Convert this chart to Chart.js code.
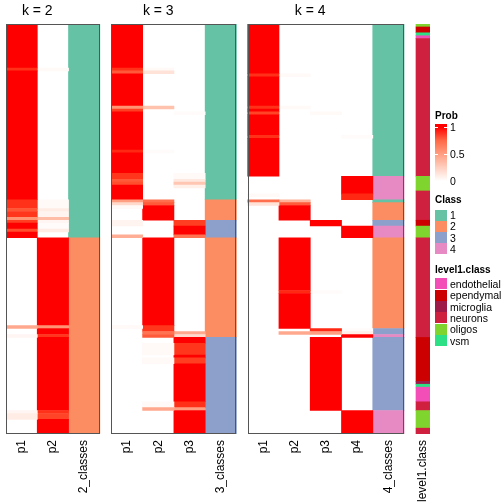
<!DOCTYPE html>
<html>
<head>
<meta charset="utf-8">
<script src="https://cdn.jsdelivr.net/npm/chart.js@4/dist/chart.umd.min.js"></script>
<style>
  body { margin: 0; background: #fff; }
  #wrap { position: relative; width: 504px; height: 504px; font-family: "Liberation Sans", Arial, sans-serif; }
  #legend { position: absolute; left: 0; top: 0; width: 504px; height: 504px; pointer-events: none; color: #000; }
  .lg-title { position: absolute; left: 435px; font-size: 10px; font-weight: bold; line-height: 12px; }
  .lg-sw { position: absolute; left: 435px; width: 12px; height: 11px; }
  .lg-txt { position: absolute; left: 450px; font-size: 10.5px; line-height: 12px; white-space: nowrap; }
  .lg-tick { position: absolute; height: 1px; width: 3px; background: #fff; }
</style>
</head>
<body>
<div id="wrap">
  <canvas id="myChart" width="504" height="504"></canvas>
  <div id="legend"></div>
</div>
<script>
// membership probabilities, k = 2 / 3 / 4, plus level1.class annotation
// every column is a list of runs: [first row, last row (excl.), value]

var nRows = 140;

var k2_p1 = [[0,15,1],[15,16,0.93],[16,60,1],[60,63,0.93],[63,64,0.82],[64,66,0.92],[66,67,0.55],[67,68,0.9],[68,70,1],[70,71,0.85],[71,73,1],[103,104,0.45],[106,107,0.05],[132,133,0.05],[133,135,0.1]];
var k2_p2 = [[15,16,0.03],[60,63,0.03],[63,64,0.1],[64,66,0.06],[66,67,0.35],[67,68,0.05],[68,70,0.02],[70,71,0.1],[73,103,1],[103,104,0.55],[104,106,1],[106,107,0.92],[107,132,1],[132,133,0.93],[133,135,0.88],[135,140,1]];
var k2_cls = [[0,73,1],[73,140,2]];

var k3_p1 = [[0,15,1],[15,16,0.93],[16,17,0.8],[17,28,1],[28,29,0.55],[29,30,0.9],[30,43,1],[43,44,0.95],[44,51,1],[51,53,0.92],[53,54,0.8],[54,55,0.85],[55,60,1],[60,61,0.5],[61,62,0.2],[62,63,0.03],[67,69,0.06],[72,73,0.42],[103,104,0.03]];
var k3_p2 = [[15,16,0.03],[16,17,0.15],[28,29,0.32],[43,44,0.02],[60,61,0.72],[61,62,0.8],[62,67,1],[73,103,1],[103,105,0.92],[105,106,0.7],[106,107,0.8],[109,113,0.03],[114,116,0.03],[129,131,0.03],[131,132,0.45]];
var k3_p3 = [[30,31,0.02],[51,53,0.03],[53,54,0.12],[54,55,0.3],[55,56,0.08],[67,69,0.9],[69,72,1],[72,73,0.7],[105,106,0.45],[106,107,0.2],[107,109,1],[109,113,0.92],[113,114,1],[114,116,0.9],[116,129,1],[129,131,0.93],[131,132,0.5],[132,140,1]];
var k3_cls = [[0,60,1],[60,67,2],[67,73,3],[73,107,2],[107,140,3]];

var k4_p1 = [[0,17,1],[17,18,0.93],[18,28,1],[28,29,0.93],[29,30,1],[30,31,0.88],[31,38,1],[38,39,0.93],[39,52,1],[58,59,0.03],[60,61,0.72],[61,62,0.15]];
var k4_p2 = [[17,18,0.03],[28,29,0.03],[60,61,0.4],[61,62,0.8],[62,67,1],[73,91,1],[91,92,0.95],[92,104,1],[105,106,0.45]];
var k4_p3 = [[30,31,0.03],[67,69,1],[91,92,0.02],[104,105,0.95],[105,106,0.5],[107,132,1]];
var k4_p4 = [[38,39,0.02],[52,58,1],[58,60,0.95],[69,73,1],[104,105,0.02],[105,106,0.08],[106,107,1],[132,140,1]];
var k4_cls = [[0,52,1],[52,60,4],[60,61,1],[61,67,2],[67,69,3],[69,73,4],[73,104,2],[104,106,3],[106,107,4],[107,132,3],[132,140,4]];

var level1 = [[0,1,"oligos"],[1,3,"ependymal"],[3,4,"vsm"],[4,5,"endothelial"],[5,52,"neurons"],[52,57,"oligos"],[57,67,"neurons"],[67,69,"ependymal"],[69,73,"oligos"],[73,107,"neurons"],[107,122,"ependymal"],[122,123,"microglia"],[123,124,"vsm"],[124,129,"endothelial"],[129,132,"neurons"],[132,138,"oligos"],[138,140,"neurons"]];

var classNames = ["1", "2", "3", "4"];
var classColors = ["#66C2A5", "#FC8D62", "#8DA0CB", "#E78AC3"];
var level1Names = ["endothelial", "ependymal", "microglia", "neurons", "oligos", "vsm"];
var level1Colors = ["#F34DB8", "#CC0000", "#9E1A48", "#D0203F", "#80D42E", "#2EE085"];
var probTicks = [1, 0.5, 0];

// ---- colour ramp white -> red, interpolated in LAB like colorRamp2
function toLin(c){ c /= 255; return c <= 0.04045 ? c / 12.92 : Math.pow((c + 0.055) / 1.055, 2.4); }
function toSrgb(c){ c = c <= 0.0031308 ? 12.92 * c : 1.055 * Math.pow(c, 1 / 2.4) - 0.055; return Math.round(255 * Math.min(1, Math.max(0, c))); }
function rgbToLab(r, g, b){
  var R = toLin(r), G = toLin(g), B = toLin(b);
  var X = (0.4124 * R + 0.3576 * G + 0.1805 * B) / 0.95047;
  var Y = 0.2126 * R + 0.7152 * G + 0.0722 * B;
  var Z = (0.0193 * R + 0.1192 * G + 0.9505 * B) / 1.08883;
  var f = function(t){ return t > 0.008856 ? Math.cbrt(t) : 7.787 * t + 16 / 116; };
  return [116 * f(Y) - 16, 500 * (f(X) - f(Y)), 200 * (f(Y) - f(Z))];
}
function labToRgb(L, a, b){
  var fy = (L + 16) / 116, fx = fy + a / 500, fz = fy - b / 200;
  var inv = function(t){ return t * t * t > 0.008856 ? t * t * t : (t - 16 / 116) / 7.787; };
  var X = 0.95047 * inv(fx), Y = inv(fy), Z = 1.08883 * inv(fz);
  var R = 3.2406 * X - 1.5372 * Y - 0.4986 * Z;
  var G = -0.9689 * X + 1.8758 * Y + 0.0415 * Z;
  var B = 0.0557 * X - 0.2040 * Y + 1.0570 * Z;
  return "rgb(" + toSrgb(R) + "," + toSrgb(G) + "," + toSrgb(B) + ")";
}
var labWhite = rgbToLab(255, 255, 255), labRed = rgbToLab(255, 0, 0);
function probColor(v){
  return labToRgb(labWhite[0] + (labRed[0] - labWhite[0]) * v,
                  labWhite[1] + (labRed[1] - labWhite[1]) * v,
                  labWhite[2] + (labRed[2] - labWhite[2]) * v);
}

// ---- layout in column units (1 unit = one heatmap column)
var panels = [
  { title: "k = 2", start: 0,    names: ["p1", "p2", "2_classes"], probs: [k2_p1, k2_p2], cls: k2_cls },
  { title: "k = 3", start: 3.37, names: ["p1", "p2", "p3", "3_classes"], probs: [k3_p1, k3_p2, k3_p3], cls: k3_cls },
  { title: "k = 4", start: 7.73, names: ["p1", "p2", "p3", "p4", "4_classes"], probs: [k4_p1, k4_p2, k4_p3, k4_p4], cls: k4_cls }
];
var level1Center = 13.335;
var xMax = 13.56;
var colPx = 31.4;

var datasets = [];
var tickPos = [], tickNames = [];
var titlePos = [], titleNames = [];

function addColumn(center, runs, colorOf, width){
  datasets.push({
    xAxisID: "x",
    yAxisID: "y",
    data: runs.map(function(r){ return { x: center, y: [r[0], r[1]] }; }),
    backgroundColor: runs.map(function(r){ return colorOf(r[2]); }),
    borderWidth: 0,
    barThickness: width,
    inflateAmount: 0.3
  });
}

panels.forEach(function(p){
  p.probs.forEach(function(runs, i){
    addColumn(p.start + i + 0.5, runs, probColor, colPx);
  });
  addColumn(p.start + p.probs.length + 0.5, p.cls, function(c){ return classColors[c - 1]; }, colPx);
  p.names.forEach(function(n, i){ tickPos.push(p.start + i + 0.5); tickNames.push(n); });
  titlePos.push(p.start + p.probs.length / 2);
  titleNames.push(p.title);
});
addColumn(level1Center, level1, function(n){ return level1Colors[level1Names.indexOf(n)]; }, 14);
tickPos.push(level1Center);
tickNames.push("level1.class");

var panelFrame = {
  id: "panelFrame",
  afterDatasetsDraw: function(chart){
    var ctx = chart.ctx, a = chart.chartArea, x = chart.scales.x;
    ctx.save();
    ctx.strokeStyle = "#555555";
    ctx.lineWidth = 1;
    panels.forEach(function(p){
      var l = Math.round(x.getPixelForValue(p.start));
      var r = Math.round(x.getPixelForValue(p.start + p.names.length));
      ctx.strokeRect(l + 0.5, Math.round(a.top) + 0.5, r - l - 1, Math.round(a.bottom - a.top) - 1);
    });
    ctx.restore();
  }
};

// fixed axis heights, no label overhang padding
function fixHeight(h){
  return function(s){ s.height = h; s.paddingLeft = 0; s.paddingRight = 0; };
}

var ctx = document.getElementById("myChart");
var myChart = new Chart(ctx, {
  type: "bar",
  data: { datasets: datasets },
  options: {
    responsive: false,
    animation: false,
    layout: { padding: { left: 6, right: 74, top: 0, bottom: 0 } },
    plugins: { legend: { display: false }, tooltip: { enabled: false } },
    scales: {
      x: {
        type: "linear",
        min: 0,
        max: xMax,
        offset: false,
        bounds: "data",
        stacked: true,
        grid: { display: false, drawTicks: false, offset: false },
        border: { display: false },
        ticks: {
          autoSkip: false,
          minRotation: 90,
          maxRotation: 90,
          padding: 6,
          color: "#000",
          font: { family: "'Liberation Sans', Arial, sans-serif", size: 12 },
          callback: function(v, i){ return tickNames[i]; }
        },
        afterBuildTicks: function(s){ s.ticks = tickPos.map(function(v){ return { value: v }; }); },
        afterFit: fixHeight(70)
      },
      xTop: {
        type: "linear",
        position: "top",
        min: 0,
        max: xMax,
        offset: false,
        bounds: "data",
        grid: { display: false, drawTicks: false, offset: false },
        border: { display: false },
        ticks: {
          autoSkip: false,
          minRotation: 0,
          maxRotation: 0,
          padding: 4,
          color: "#000",
          font: { family: "'Liberation Sans', Arial, sans-serif", size: 14 },
          callback: function(v, i){ return titleNames[i]; }
        },
        afterBuildTicks: function(s){ s.ticks = titlePos.map(function(v){ return { value: v }; }); },
        afterFit: fixHeight(24)
      },
      y: {
        type: "linear",
        reverse: true,
        min: 0,
        max: nRows,
        stacked: false,
        display: false
      }
    }
  },
  plugins: [panelFrame]
});

// ---- legends on the right (html)
var lg = document.getElementById("legend");
function el(cls, top, text, extra){
  var d = document.createElement("div");
  d.className = cls;
  d.style.top = top + "px";
  if (text !== null) d.textContent = text;
  if (extra) for (var k in extra) d.style[k] = extra[k];
  lg.appendChild(d);
  return d;
}

el("lg-title", 110, "Prob");
var stops = [0, 0.25, 0.5, 0.75, 1].map(function(v){
  return probColor(v) + " " + (v * 54 / 57 * 100).toFixed(1) + "%";
});
el("lg-sw", 124, null, { height: "57px", background: "linear-gradient(to top, " + stops.join(", ") + ", rgb(255,0,0) 100%)" });
probTicks.forEach(function(v){
  var y = 181 - v * 54;
  if (v > 0) {
    el("lg-tick", y, null, { left: "435px" });
    el("lg-tick", y, null, { left: "444px" });
  }
  el("lg-txt", y - 6, String(v));
});

el("lg-title", 194, "Class");
classNames.forEach(function(n, i){
  el("lg-sw", 209.5 + i * 11.3, null, { background: classColors[i] });
  el("lg-txt", 209 + i * 11.3, n);
});

el("lg-title", 264, "level1.class");
level1Names.forEach(function(n, i){
  el("lg-sw", 278.3 + i * 11.3, null, { background: level1Colors[i] });
  el("lg-txt", 278 + i * 11.3, n);
});
</script>
</body>
</html>
